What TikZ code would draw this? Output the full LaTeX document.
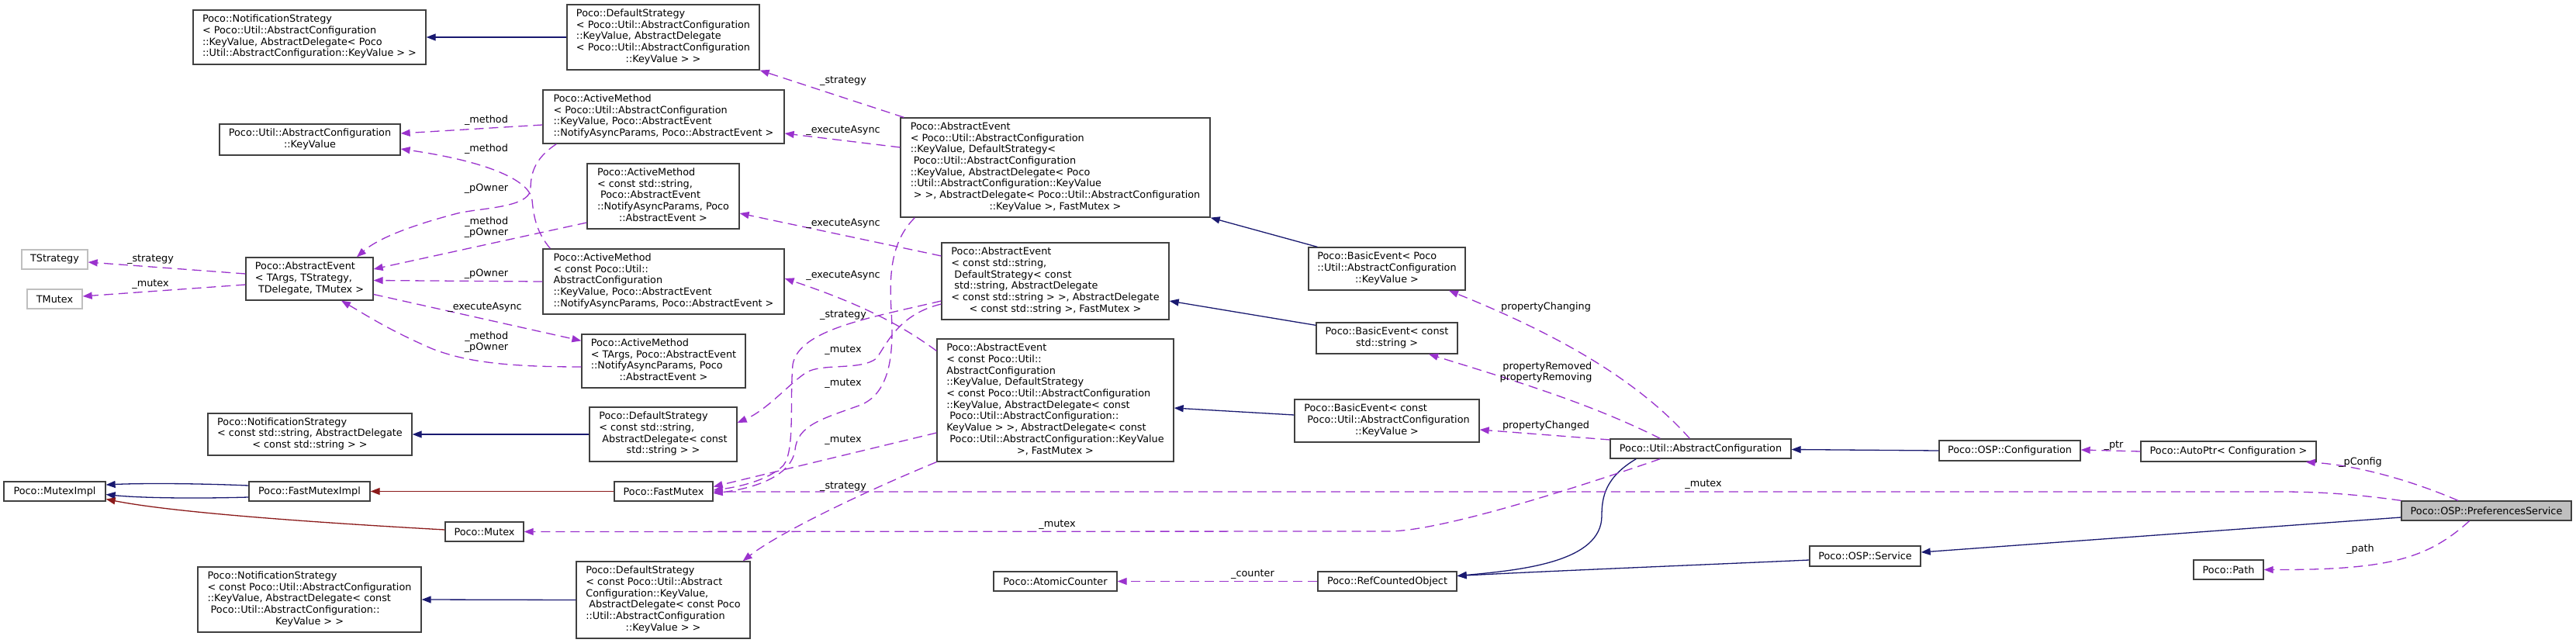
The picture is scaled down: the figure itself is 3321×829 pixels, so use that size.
\documentclass[tikz,border=0pt]{standalone}
\usepackage{fontspec}
\setmainfont{DejaVu Sans}
\usetikzlibrary{arrows.meta}

\definecolor{edgeblue}{HTML}{191970}
\definecolor{edgered}{HTML}{8B1A1A}
\definecolor{edgeuse}{HTML}{9A32CD}
\definecolor{boxline}{HTML}{404040}
\definecolor{boxgray}{HTML}{BFBFBF}

\newcommand{\boxtext}[1]{\begin{tabular}{@{}l@{}}#1\end{tabular}}
\newcommand{\lastln}[1]{\multicolumn{1}{@{}c@{}}{#1}}

\tikzset{
  cls/.style={draw=boxline, line width=1.3pt, fill=white, inner xsep=4pt, inner ysep=1pt, font=\fontsize{12.8}{14.7}\selectfont},
  undoc/.style={cls, draw=boxgray},
  focus/.style={cls, fill=boxgray},
  sz/.style 2 args={minimum width=#1pt, minimum height=#2pt},
  inherit/.style={draw=edgeblue, line width=1.3pt, -{Triangle[length=12pt,width=9pt]}},
  privinh/.style={inherit, draw=edgered},
  member/.style={draw=edgeuse, line width=1.3pt, dash pattern=on 12pt off 7pt, -{Triangle[length=12pt,width=9pt]}},
  lbl/.style={inner sep=0pt, font=\fontsize{12.8}{14.7}\selectfont, align=right}
}

\begin{document}
\begin{tikzpicture}[x=1pt, y=-1pt]
\useasboundingbox (0,0) rectangle (3321,829);

\node[cls, sz={300}{70}] (nsKV) at (399,48) {\boxtext{Poco::NotificationStrategy\\< Poco::Util::AbstractConfiguration\\::KeyValue, AbstractDelegate< Poco\\::Util::AbstractConfiguration::KeyValue > >}};
\node[cls, sz={233}{40}] (keyValue) at (399.5,180) {\boxtext{Poco::Util::AbstractConfiguration\\\lastln{::KeyValue}}};
\node[undoc, sz={85}{25}] (tStrat) at (70.5,334.5) {TStrategy};
\node[undoc, sz={71}{25}] (tMutex) at (70.5,385.5) {TMutex};
\node[cls, sz={164}{55}] (aeGen) at (399,359.5) {\boxtext{Poco::AbstractEvent\\< TArgs, TStrategy,\\\ TDelegate, TMutex >}};
\node[cls, sz={263}{54}] (nsStr) at (399.5,560) {\boxtext{Poco::NotificationStrategy\\< const std::string, AbstractDelegate\\\lastln{< const std::string > >}}};
\node[cls, sz={131}{25}] (mImpl) at (70.5,633.5) {Poco::MutexImpl};
\node[cls, sz={156}{25}] (fmImpl) at (399,633.5) {Poco::FastMutexImpl};
\node[cls, sz={101}{25}] (mutex) at (624.5,685.5) {Poco::Mutex};
\node[cls, sz={288}{84}] (nsCKV) at (399,773) {\boxtext{Poco::NotificationStrategy\\< const Poco::Util::AbstractConfiguration\\::KeyValue, AbstractDelegate< const\\\ Poco::Util::AbstractConfiguration::\\\lastln{KeyValue > >}}};

\node[cls, sz={248}{84}] (dsKV) at (855,48) {\boxtext{Poco::DefaultStrategy\\< Poco::Util::AbstractConfiguration\\::KeyValue, AbstractDelegate\\< Poco::Util::AbstractConfiguration\\\lastln{::KeyValue > >}}};
\node[cls, sz={311}{69}] (amKV) at (855.5,150.5) {\boxtext{Poco::ActiveMethod\\< Poco::Util::AbstractConfiguration\\::KeyValue, Poco::AbstractEvent\\::NotifyAsyncParams, Poco::AbstractEvent >}};
\node[cls, sz={196}{84}] (amStr) at (855,253) {\boxtext{Poco::ActiveMethod\\< const std::string,\\\ Poco::AbstractEvent\\::NotifyAsyncParams, Poco\\\lastln{::AbstractEvent >}}};
\node[cls, sz={311}{84}] (amCKV) at (855.5,363) {\boxtext{Poco::ActiveMethod\\< const Poco::Util::\\AbstractConfiguration\\::KeyValue, Poco::AbstractEvent\\::NotifyAsyncParams, Poco::AbstractEvent >}};
\node[cls, sz={211}{69}] (amT) at (855.5,465.5) {\boxtext{Poco::ActiveMethod\\< TArgs, Poco::AbstractEvent\\::NotifyAsyncParams, Poco\\\lastln{::AbstractEvent >}}};
\node[cls, sz={190}{70}] (dsStr) at (855,560) {\boxtext{Poco::DefaultStrategy\\< const std::string,\\\ AbstractDelegate< const\\\lastln{std::string > >}}};
\node[cls, sz={127}{25}] (fastMutex) at (855.5,633.5) {Poco::FastMutex};
\node[cls, sz={224}{99}] (dsCKV) at (855,773.5) {\boxtext{Poco::DefaultStrategy\\< const Poco::Util::Abstract\\Configuration::KeyValue,\\\ AbstractDelegate< const Poco\\::Util::AbstractConfiguration\\\lastln{::KeyValue > >}}};

\node[cls, sz={399}{128}] (aeKV) at (1360.5,216) {\boxtext{Poco::AbstractEvent\\< Poco::Util::AbstractConfiguration\\::KeyValue, DefaultStrategy<\\\ Poco::Util::AbstractConfiguration\\::KeyValue, AbstractDelegate< Poco\\::Util::AbstractConfiguration::KeyValue\\\ > >, AbstractDelegate< Poco::Util::AbstractConfiguration\\\lastln{::KeyValue >, FastMutex >}}};
\node[cls, sz={293}{99}] (aeStr) at (1360.5,362.5) {\boxtext{Poco::AbstractEvent\\< const std::string,\\\ DefaultStrategy< const\\\ std::string, AbstractDelegate\\< const std::string > >, AbstractDelegate\\\lastln{< const std::string >, FastMutex >}}};
\node[cls, sz={305}{158}] (aeCKV) at (1360.5,516) {\boxtext{Poco::AbstractEvent\\< const Poco::Util::\\AbstractConfiguration\\::KeyValue, DefaultStrategy\\< const Poco::Util::AbstractConfiguration\\::KeyValue, AbstractDelegate< const\\\ Poco::Util::AbstractConfiguration::\\KeyValue > >, AbstractDelegate< const\\\ Poco::Util::AbstractConfiguration::KeyValue\\\lastln{>, FastMutex >}}};
\node[cls, sz={159}{25}] (atomic) at (1360.5,749.5) {Poco::AtomicCounter};

\node[cls, sz={202}{55}] (beKV) at (1788,346.5) {\boxtext{Poco::BasicEvent< Poco\\::Util::AbstractConfiguration\\\lastln{::KeyValue >}}};
\node[cls, sz={182}{40}] (beStr) at (1788,436) {\boxtext{Poco::BasicEvent< const\\\lastln{std::string >}}};
\node[cls, sz={238}{55}] (beCKV) at (1788,542.5) {\boxtext{Poco::BasicEvent< const\\\ Poco::Util::AbstractConfiguration\\\lastln{::KeyValue >}}};
\node[cls, sz={179}{25}] (refObj) at (1788.5,749.5) {Poco::RefCountedObject};
\node[cls, sz={233}{25}] (absConf) at (2192.5,578.5) {Poco::Util::AbstractConfiguration};
\node[cls, sz={182}{26}] (ospConf) at (2591,581) {Poco::OSP::Configuration};
\node[cls, sz={143}{26}] (ospSvc) at (2404.5,717) {Poco::OSP::Service};
\node[cls, sz={226}{26}] (autoPtr) at (2873,582) {Poco::AutoPtr< Configuration >};
\node[cls, sz={90}{25}] (pocoPath) at (2873,734.5) {Poco::Path};
\node[focus, sz={219}{25}] (prefSvc) at (3205.5,658.5) {Poco::OSP::PreferencesService};

\draw[inherit] (dsKV.west) -- (nsKV.east);
\draw[inherit] ([xshift=12pt]beKV.north west) -- (aeKV.south east);
\draw[inherit] ([yshift=-4pt]beStr.north west) -- ([yshift=-25.5pt]aeStr.east);
\draw[inherit] ([yshift=7.5pt]beCKV.west) -- ([yshift=-10pt]aeCKV.east);
\draw[inherit] (dsStr.west) -- (nsStr.east);
\draw[inherit] (dsCKV.west) -- (nsCKV.east);
\draw[inherit] ([yshift=7.5pt]fmImpl.west) .. controls (250,623) and (180,623) .. ([yshift=8.5pt]mImpl.east);
\draw[inherit] ([yshift=-7.5pt]fmImpl.west) .. controls (250,643) and (180,642) .. ([yshift=-4pt]mImpl.east);
\draw[privinh] ([yshift=2.5pt]mutex.west) .. controls (430,675) and (230,662) .. ([yshift=-10pt]mImpl.east);
\draw[privinh] (fastMutex.west) -- (fmImpl.east);
\draw[inherit] (ospConf.west) -- ([yshift=-1pt]absConf.east);
\draw[inherit] ([xshift=34pt]absConf.south west) .. controls (2070,615) and (2065,640) .. (2065,665) .. controls (2065,725) and (1960,735) .. ([yshift=7pt]refObj.east);
\draw[inherit] ([yshift=-8.5pt]prefSvc.west) -- ([yshift=5pt]ospSvc.east);
\draw[inherit] ([yshift=-5pt]ospSvc.west) .. controls (2200,728) and (2000,736) .. ([yshift=7pt]refObj.east);

\draw[member] ([xshift=5pt]aeKV.north west) -- (dsKV.south east);
\draw[member] ([yshift=26pt]aeKV.west) -- ([yshift=-21.5pt]amKV.east);
\draw[member] ([yshift=-10.5pt]amKV.west) -- ([yshift=8pt]keyValue.east);
\draw[member] ([xshift=10pt]amCKV.north west) .. controls (692,300) and (688,280) .. (686,258) .. controls (684,236) and (640,210) .. ([yshift=-12pt]keyValue.east);
\draw[member] ([xshift=18pt]amKV.south west) .. controls (688,205) and (684,225) .. (684,245) .. controls (680,268) and (620,268) .. (590,275) .. controls (540,288) and (490,305) .. ([xshift=61pt]aeGen.north);
\draw[member] ([yshift=-34pt]amStr.west) -- ([yshift=12.5pt]aeGen.east);
\draw[member] (amCKV.west) -- ([yshift=-2pt]aeGen.east);
\draw[member] ([yshift=-20pt]aeGen.east) -- ([yshift=-9pt]amT.north west);
\draw[member] ([yshift=-7.5pt]amT.west) .. controls (650,473) and (600,466) .. (558,450) .. controls (500,425) and (470,405) .. ([xshift=41pt]aeGen.south);
\draw[member] ([yshift=6.5pt]aeGen.west) -- ([yshift=-3.5pt]tStrat.east);
\draw[member] ([yshift=-7.5pt]aeGen.west) -- ([yshift=3.5pt]tMutex.east);
\draw[member] ([yshift=32.5pt]aeStr.west) -- ([yshift=-22pt]amStr.east);
\draw[member] ([yshift=-16pt]aeCKV.north west) .. controls (1170,425) and (1120,395) .. ([yshift=4pt]amCKV.east);
\draw[member] ([yshift=-29.5pt]aeStr.west) .. controls (1160,405) and (1145,440) .. (1130,462) .. controls (1110,478) and (1060,468) .. (1040,480) .. controls (1020,492) and (990,528) .. ([yshift=15pt]dsStr.east);
\draw[member] ([yshift=-25.5pt]aeStr.west) .. controls (1120,410) and (1030,425) .. (1022,470) .. controls (1018,520) and (1025,580) .. (1010,600) .. controls (990,620) and (950,628) .. ([yshift=1.5pt]fastMutex.east);
\draw[member] ([xshift=19pt]aeKV.south west) .. controls (1150,310) and (1146,350) .. (1149,400) .. controls (1152,450) and (1150,505) .. (1110,522) .. controls (1060,540) and (1028,548) .. (1025,580) .. controls (1020,615) and (970,630) .. ([yshift=-2.5pt]fastMutex.east);
\draw[member] ([yshift=-42pt]aeCKV.west) -- ([yshift=6pt]fastMutex.east);
\draw[member] (aeCKV.south west) .. controls (1100,640) and (1000,690) .. ([xshift=-10pt]dsCKV.north east);
\draw[member] (prefSvc.north west) .. controls (3000,632) and (2950,634) .. (2880,634) -- ([yshift=-0.5pt]fastMutex.east);
\draw[member] ([xshift=65pt]absConf.south west) .. controls (2000,640) and (1850,685) .. (1790,685) -- (mutex.east);
\draw[member] ([xshift=103pt]absConf.north west) .. controls (2120,500) and (2030,440) .. ([xshift=80pt]beKV.south);
\draw[member] ([xshift=65pt]absConf.north west) .. controls (2050,520) and (1950,490) .. ([xshift=54pt]beStr.south);
\draw[member] ([yshift=11.5pt]absConf.west) -- ([yshift=-11.5pt]beCKV.east);
\draw[member] (refObj.west) -- (atomic.east);
\draw[member] (autoPtr.west) -- ([yshift=1pt]ospConf.east);
\draw[member] ([xshift=-36.5pt]prefSvc.north) .. controls (3110,620) and (3040,600) .. ([xshift=-14pt]autoPtr.south east);
\draw[member] ([xshift=-22pt]prefSvc.south) .. controls (3130,720) and (3080,735) .. (pocoPath.east);

\node[lbl] (lStratKV) at (1087,105) {\_strategy};
\node[lbl] (lExecKV) at (1087,168) {\_executeAsync};
\node[lbl] (lMethKV) at (627,155) {\_method};
\node[lbl] (lMethCKV) at (627,192) {\_method};
\node[lbl] (lOwnKV) at (627,243) {\_pOwner};
\node[lbl] (lOwnStr) at (627,293) {\_method\\\_pOwner};
\node[lbl] (lOwnCKV) at (627,353) {\_pOwner};
\node[lbl] (lExecT) at (625,396) {\_executeAsync};
\node[lbl] (lOwnT) at (627,441) {\_method\\\_pOwner};
\node[lbl] (lStratT) at (194,335) {\_strategy};
\node[lbl] (lMutexT) at (194,367) {\_mutex};
\node[lbl] (lExecStr) at (1087,288) {\_executeAsync};
\node[lbl] (lExecCKV) at (1087,355) {\_executeAsync};
\node[lbl] (lStratStr) at (1087,407) {\_strategy};
\node[lbl] (lMutexStr) at (1087,452) {\_mutex};
\node[lbl] (lMutexKV) at (1087,495) {\_mutex};
\node[lbl] (lMutexCKV) at (1087,568) {\_mutex};
\node[lbl] (lStratCKV) at (1087,628) {\_strategy};
\node[lbl] (lMutexConf) at (1363,677) {\_mutex};
\node[lbl] (lCounter) at (1615,741) {\_counter};
\node[lbl] (lChanging) at (1993,396) {propertyChanging};
\node[lbl] (lRemoved) at (1993,480) {propertyRemoved\\propertyRemoving};
\node[lbl] (lChanged) at (1993,549) {propertyChanged};
\node[lbl] (lMutexPref) at (2196,625) {\_mutex};
\node[lbl] (lPtr) at (2725,575) {\_ptr};
\node[lbl] (lConfig) at (3043,596) {\_pConfig};
\node[lbl] (lPath) at (3043,708) {\_path};

\end{tikzpicture}
\end{document}
